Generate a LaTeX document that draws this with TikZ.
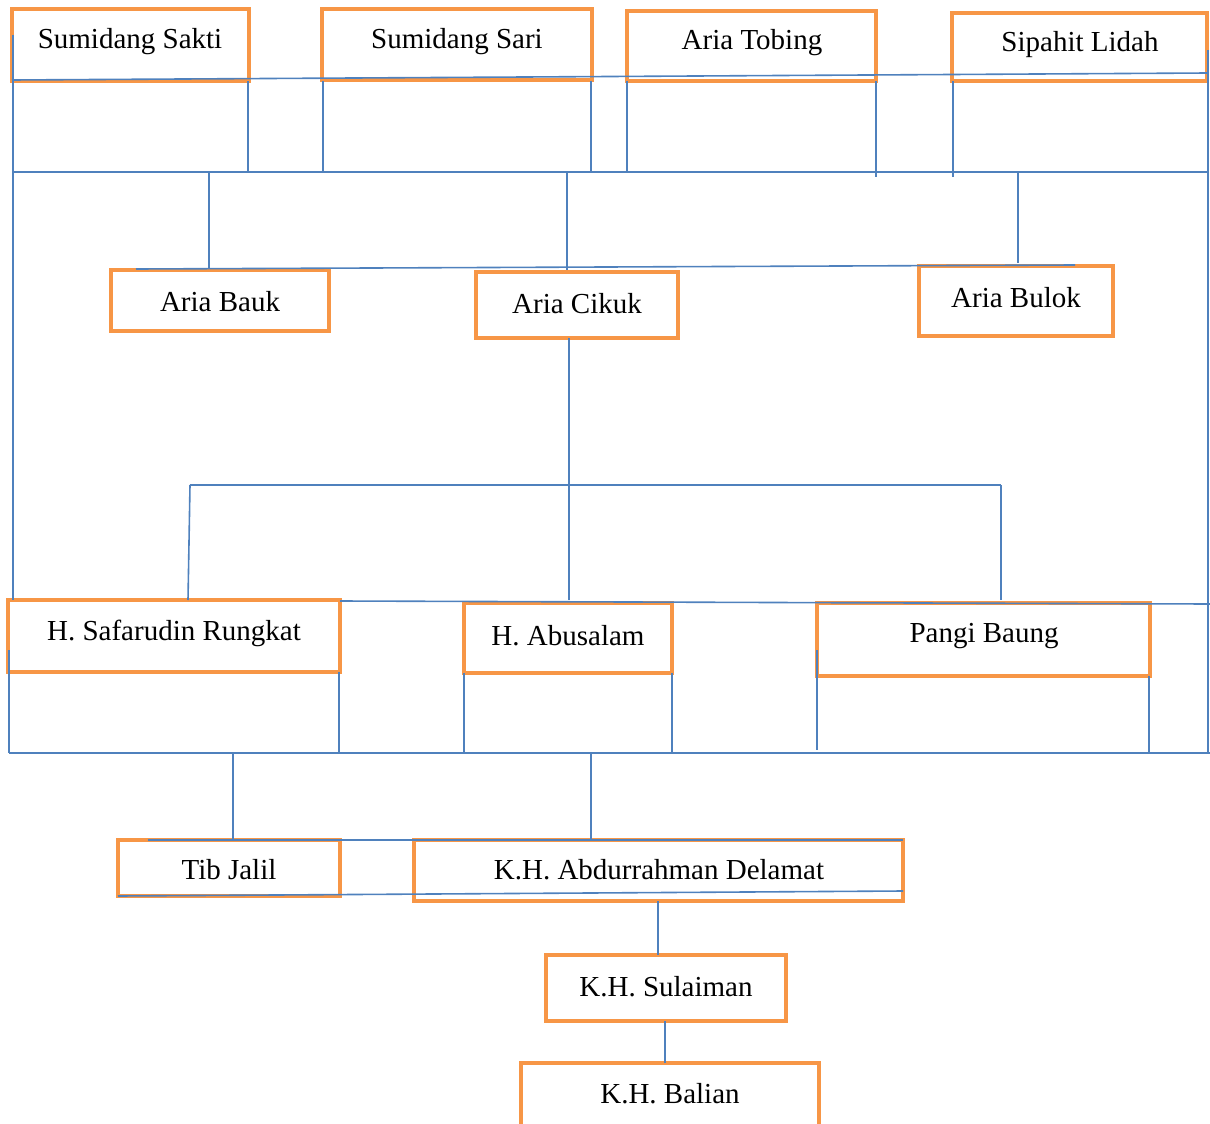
\documentclass[tikz,border=0pt]{standalone}
\usepackage{fontspec}
\setmainfont{Liberation Serif}
\definecolor{boxorange}{HTML}{F79646}
\definecolor{lineblue}{HTML}{4F81BD}
\begin{document}
\begin{tikzpicture}[x=1pt,y=-1pt,
  box/.style={draw=boxorange,line width=4.6pt,rectangle,inner sep=0pt,outer sep=0pt},
  lbl/.style={font=\fontsize{29}{34}\selectfont,inner sep=0pt,text=black},
  link/.style={draw=lineblue,line width=1.6pt}]
\useasboundingbox (0,0) rectangle (1210,1124);
% boxes
\node[box,minimum width=237pt,minimum height=72pt] (ss) at (130.5,45) {};
\node[lbl] (tss) at (130,42) {Sumidang Sakti};
\node[box,minimum width=270pt,minimum height=71pt] (sr) at (457,44.5) {};
\node[lbl] (tsr) at (457,42) {Sumidang Sari};
\node[box,minimum width=249pt,minimum height=70pt] (at) at (751.5,46) {};
\node[lbl] (tat) at (752,43) {Aria Tobing};
\node[box,minimum width=255pt,minimum height=68pt] (sl) at (1079.5,47) {};
\node[lbl] (tsl) at (1080,45) {Sipahit Lidah};
\node[box,minimum width=218pt,minimum height=61pt] (ab) at (220,300.5) {};
\node[lbl] (tab) at (220,302) {Aria Bauk};
\node[box,minimum width=202pt,minimum height=66pt] (ac) at (577,305) {};
\node[lbl] (tac) at (577,304) {Aria Cikuk};
\node[box,minimum width=194pt,minimum height=70pt] (abl) at (1016,301) {};
\node[lbl] (tabl) at (1016,298) {Aria Bulok};
\node[box,minimum width=332pt,minimum height=72pt] (hs) at (174,636) {};
\node[lbl] (ths) at (174,633) {H. Safarudin Rungkat};
\node[box,minimum width=208pt,minimum height=70pt] (ha) at (568,638) {};
\node[lbl] (tha) at (568,636) {H. Abusalam};
\node[box,minimum width=333pt,minimum height=73pt] (pb) at (983.5,639.5) {};
\node[lbl] (tpb) at (984,636) {Pangi Baung};
\node[box,minimum width=222pt,minimum height=56pt] (tj) at (229,868) {};
\node[lbl] (ttj) at (229,870) {Tib Jalil};
\node[box,minimum width=489pt,minimum height=61pt] (kd) at (658.5,870.5) {};
\node[lbl] (tkd) at (659,870) {K.H. Abdurrahman Delamat};
\node[box,minimum width=240pt,minimum height=66pt] (ks) at (666,988) {};
\node[lbl] (tks) at (666,987) {K.H. Sulaiman};
\node[box,minimum width=298pt,minimum height=77pt] (kb) at (670,1101.5) {};
\node[lbl] (tkb) at (670,1094) {K.H. Balian};
% coordinates
\coordinate (t1L) at (12,80); \coordinate (t1R) at (1208,73);
\coordinate (b1L) at (13,172); \coordinate (b1R) at (1208,172);
\coordinate (lT) at (13,35); \coordinate (lB) at (13,600);
\coordinate (rT) at (1208,50); \coordinate (rB) at (1208,753);
\coordinate (b2L) at (136,269); \coordinate (b2R) at (1075,265);
\coordinate (b3L) at (190,485); \coordinate (b3R) at (1001,485);
\coordinate (r4L) at (340,601); \coordinate (r4R) at (1210,604);
\coordinate (b4L) at (9,753); \coordinate (b4R) at (1210,753);
\coordinate (b5L) at (148,840); \coordinate (b5R) at (903,840);
\coordinate (s5L) at (118,896); \coordinate (s5R) at (903,891);
% lines
\draw[link] (t1L) -- (t1R);
\draw[link] (b1L) -- (b1R);
\draw[link] (lT) -- (lB);
\draw[link] (rT) -- (rB);
\draw[link] (248,81) -- (248,172);
\draw[link] (323,81) -- (323,172);
\draw[link] (591,81) -- (591,172);
\draw[link] (627,81) -- (627,172);
\draw[link] (876,81) -- (876,177);
\draw[link] (953,81) -- (953,177);
\draw[link] (209,172) -- (209,268);
\draw[link] (567,172) -- (567,270);
\draw[link] (1018,172) -- (1018,263);
\draw[link] (b2L) -- (b2R);
\draw[link] (569,338) -- (569,600);
\draw[link] (b3L) -- (b3R);
\draw[link] (b3L) -- (188,600);
\draw[link] (b3R) -- (1001,600);
\draw[link] (r4L) -- (r4R);
\draw[link] (9,650) -- (9,753);
\draw[link] (339,672) -- (339,753);
\draw[link] (464,673) -- (464,753);
\draw[link] (672,673) -- (672,753);
\draw[link] (817,650) -- (817,750);
\draw[link] (1149,676) -- (1149,753);
\draw[link] (b4L) -- (b4R);
\draw[link] (233,753) -- (233,840);
\draw[link] (591,753) -- (591,840);
\draw[link] (b5L) -- (b5R);
\draw[link] (s5L) -- (s5R);
\draw[link] (658,901) -- (658,955);
\draw[link] (665,1021) -- (665,1063);
\end{tikzpicture}
\end{document}
